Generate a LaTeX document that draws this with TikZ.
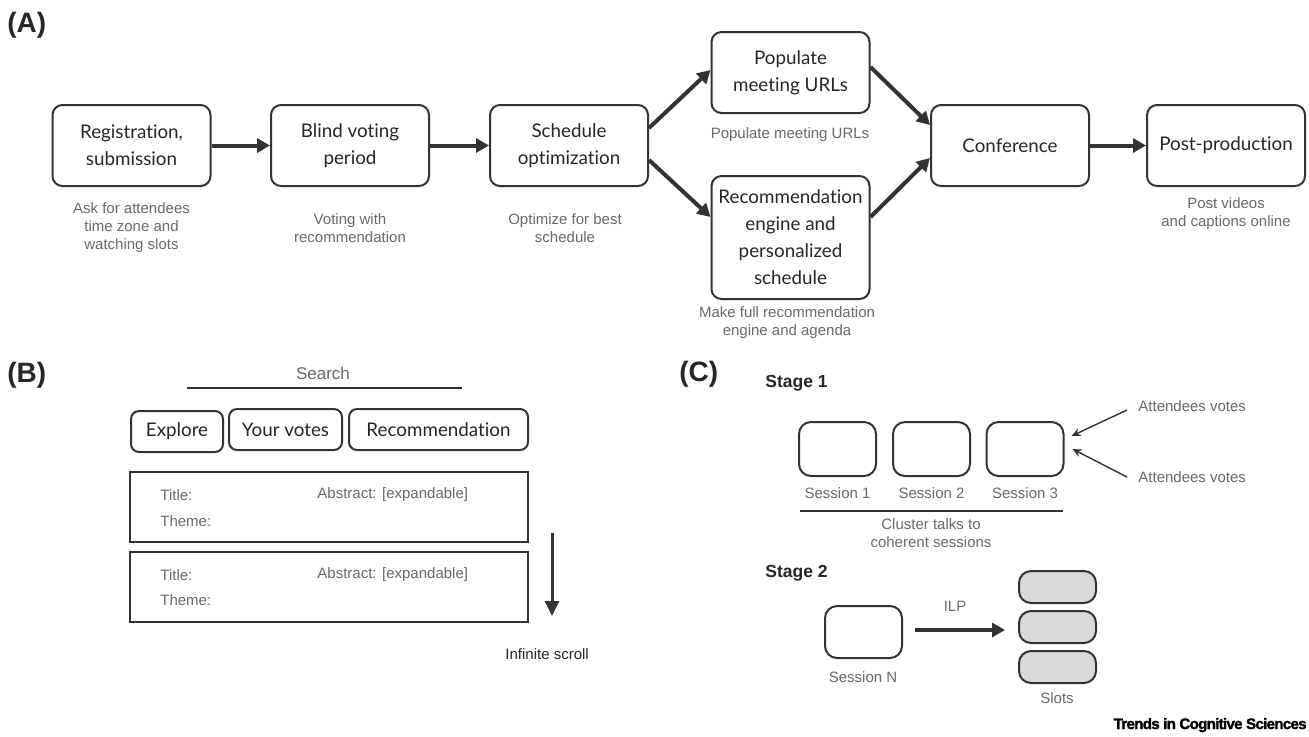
\documentclass[tikz,border=0pt]{standalone}
\usepackage{fontspec}
\setmainfont{Liberation Sans}
\newfontfamily\boxfont{Lato}[Ligatures=NoCommon]
\newfontfamily\logofont{Liberation Sans}[LetterSpace=-5,BoldFeatures={FakeBold=1.5}]
\usetikzlibrary{arrows.meta,calc}
\definecolor{ink}{HTML}{262626}
\definecolor{edge}{HTML}{333333}
\definecolor{subgray}{HTML}{6A6A6A}
\definecolor{slotgray}{HTML}{D9D9D9}
\begin{document}
\begin{tikzpicture}[x=0.5pt,y=-0.5pt,
  flowbox/.style={draw=edge, line width=1pt, rounded corners=5pt, fill=white, align=center, text=ink,
    font=\boxfont\fontsize{9.4}{13.5}\selectfont, inner sep=0pt, minimum width=79pt, minimum height=40.5pt},
  sub/.style={text=subgray, align=center, font=\fontsize{7.5}{9}\selectfont, inner sep=0pt},
  bigarrow/.style={draw=edge, line width=2pt, -{Triangle[length=6.5pt,width=7pt]}},
  tab/.style={draw=edge, line width=1pt, rounded corners=4pt, text=ink,
    font=\boxfont\fontsize{9.4}{11}\selectfont, inner sep=0pt, minimum height=20.5pt},
  card/.style={draw=edge, line width=1pt, inner sep=0pt, minimum width=199pt, minimum height=35pt},
  field/.style={text=subgray, anchor=west, font=\fontsize{7.5}{9}\selectfont, inner sep=0pt},
  session/.style={draw=edge, line width=1pt, rounded corners=6pt, fill=white, inner sep=0pt,
    minimum width=38.5pt, minimum height=27pt},
  slot/.style={session, fill=slotgray, minimum height=16pt},
  stage/.style={font=\bfseries\fontsize{8.75}{10}\selectfont, text=ink, anchor=west, inner sep=0pt},
  panel/.style={font=\bfseries\fontsize{14}{16}\selectfont, text=ink, anchor=west, inner sep=0pt},
  thinarrow/.style={draw=edge, line width=0.7pt, -{Stealth[length=4.5pt,width=4pt]}},
  plain/.style={draw=edge, line width=0.75pt}
]
\useasboundingbox[fill=white] (0,0) rectangle (1309,736);

% ---------------- Panel A ----------------
\node[panel] (labA) at (7,25) {(A)};

\node[flowbox] (reg)   at (131.5,145.5) {Registration,\\submission};
\node[flowbox] (blind) at (350,145.5)   {Blind voting\\period};
\node[flowbox] (sched) at (569,145.5)   {Schedule\\optimization};
\node[flowbox] (pop)   at (790.5,72.5)  {Populate\\meeting URLs};
\node[flowbox, minimum height=61.5pt] (rec) at (790.5,237.5)
  {Recommendation\\engine and\\personalized\\schedule};
\node[flowbox] (conf)  at (1010,145.5)  {Conference};
\node[flowbox] (post)  at (1226,145.5)  {Post-production};

\node[sub] (regsub)   at (131.5,228) {Ask for attendees\\time zone and\\watching slots};
\node[sub] (blindsub) at (350,228)   {Voting with\\recommendation};
\node[sub] (schedsub) at (565,228)   {Optimize for best\\schedule};
\node[sub] (popsub)   at (790,135)   {Populate meeting URLs};
\node[sub] (recsub)   at (787,322.5) {Make full recommendation\\engine and agenda};
\node[sub] (postsub)  at (1226,214)  {Post videos\\and captions online};

\draw[bigarrow] (reg.east) -- (blind.west);
\draw[bigarrow] (blind.east) -- (sched.west);
\draw[bigarrow] ([yshift=8.75pt]sched.east) -- ([yshift=1.25pt]pop.west);
\draw[bigarrow] ([yshift=-7.25pt]sched.east) -- ([yshift=10.25pt]rec.west);
\draw[bigarrow] ([yshift=2.75pt]pop.east) -- ([yshift=10.25pt]conf.west);
\draw[bigarrow] ([yshift=10.25pt]rec.east) -- ([yshift=-6.25pt]conf.west);
\draw[bigarrow] (conf.east) -- (post.west);

% ---------------- Panel B ----------------
\node[panel] (labB) at (7,375.5) {(B)};

\node[text=subgray, font=\fontsize{8.5}{10}\selectfont, inner sep=0pt] (search) at (323,373) {Search};
\coordinate (searchL) at (187,388);
\coordinate (searchR) at (462,388);
\draw[plain] (searchL) -- (searchR);

\node[tab, minimum width=46pt]   (explore) at (177,431.5)   {Explore};
\node[tab, minimum width=56.5pt] (votes)   at (285.5,429.5) {Your votes};
\node[tab, minimum width=89.5pt] (rectab)  at (438.5,429.5) {Recommendation};

\node[card] (card1) at (329,507) {};
\node[card] (card2) at (329,587) {};
\node[field] (t1) at (160,495) {Title:};
\node[field] (th1) at (160,521) {Theme:};
\node[field] (a1) at (317,495) {Abstract: [expandable]};
\node[field] (t2) at (160,575) {Title:};
\node[field] (th2) at (160,600) {Theme:};
\node[field] (a2) at (317,575) {Abstract: [expandable]};

\coordinate (scrolltop) at (552,533);
\coordinate (scrollend) at (552,616);
\draw[draw=edge, line width=1.5pt, -{Triangle[length=7.5pt,width=7pt]}] (scrolltop) -- (scrollend);
\node[anchor=west, text=ink, font=\fontsize{7.5}{9}\selectfont, inner sep=0pt] (scroll) at (505,654) {Infinite scroll};

% ---------------- Panel C ----------------
\node[panel] (labC) at (679,374) {(C)};
\node[stage] (st1) at (765,383) {Stage 1};

\node[session] (s1) at (837.5,449) {};
\node[session] (s2) at (931.5,449) {};
\node[session] (s3) at (1025,449)  {};
\node[sub] (s1l) at (837.5,493) {Session 1};
\node[sub] (s2l) at (931.5,493) {Session 2};
\node[sub] (s3l) at (1025,493)  {Session 3};
\coordinate (clL) at (800,511);
\coordinate (clR) at (1063,511);
\draw[plain] (clL) -- (clR);
\node[sub] (cluster) at (931,533.5) {Cluster talks to\\coherent sessions};

\node[field] (att1) at (1138,406) {Attendees votes};
\node[field] (att2) at (1138,477) {Attendees votes};
\draw[thinarrow] ([xshift=-5.5pt,yshift=-2pt]att1.west) -- ([xshift=3.5pt,yshift=6.5pt]s3.east);
\draw[thinarrow] ([xshift=-5.5pt]att2.west) -- ([xshift=4pt,yshift=0pt]s3.east);

\node[stage] (st2) at (765,573) {Stage 2};
\node[session, minimum height=26pt] (sn) at (863.5,632) {};
\node[sub] (snl) at (863,677) {Session N};

\node[slot] (slot1) at (1057.5,587) {};
\node[slot] (slot2) at (1057.5,627) {};
\node[slot] (slot3) at (1057.5,667) {};
\node[sub] (slotl) at (1057,698) {Slots};

\draw[bigarrow] ([xshift=6pt,yshift=1pt]sn.east) -- ([xshift=-6.5pt,yshift=-1.5pt]slot2.west);
\node[sub] (ilp) at (955,606) {ILP};

\node[anchor=base east, text=black, font=\logofont\bfseries\fontsize{7.6}{9}\selectfont, inner sep=0pt] (logo) at (1307,729) {Trends in Cognitive Sciences};
\end{tikzpicture}
\end{document}
